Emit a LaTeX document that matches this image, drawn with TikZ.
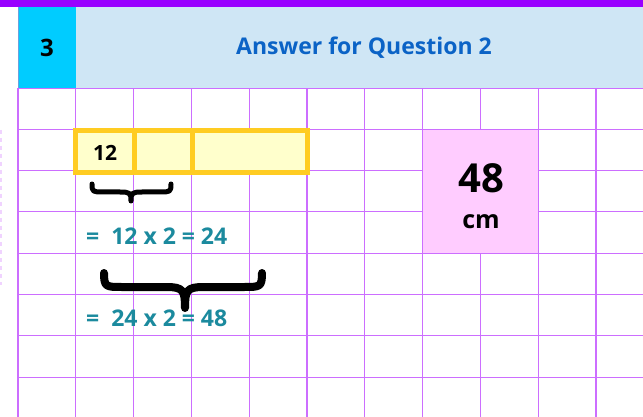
\documentclass[tikz,border=0pt]{standalone}
\usepackage{fontspec}
\setmainfont{Open Sans}
\definecolor{gridc}{HTML}{CC6EFF}
\definecolor{topbar}{HTML}{9900FF}
\definecolor{cyanc}{HTML}{00CCFF}
\definecolor{hdrbg}{HTML}{CFE6F5}
\definecolor{hdrtx}{HTML}{0B63C6}
\definecolor{goldc}{HTML}{FFCC22}
\definecolor{paley}{HTML}{FFFFCC}
\definecolor{pinkc}{HTML}{FFCCFF}
\definecolor{tealc}{HTML}{1B8A9E}
\tikzset{
  gridline/.style={draw=gridc, line width=1.1pt},
  eqtext/.style={anchor=west, inner sep=0pt, text=tealc, font=\fontsize{23}{26}\selectfont\bfseries},
  bracestyle/.style={draw=black, line cap=round, line join=round},
  celltext/.style={inner sep=0pt, font=\fontsize{22}{24}\selectfont\bfseries}
}
\begin{document}
\begin{tikzpicture}[x=1pt,y=-1pt]
\useasboundingbox (0,0) rectangle (643,417);
\fill[white] (0,0) rectangle (643,417);
% grid
\foreach \k in {0,...,10} {
  \draw[gridline] ({18+57.8*\k},88) -- ({18+57.8*\k},417);
}
\foreach \k in {0,...,7} {
  \draw[gridline] (18,{88+41.3*\k}) -- (643,{88+41.3*\k});
}
% faint left dashes
\draw[draw=gridc!30, line width=1.5pt, dash pattern=on 4pt off 4pt] (1,130) -- (1,285);
% header
\fill[topbar] (0,0) rectangle (643,7);
\fill[cyanc] (18,7) rectangle (76,88);
\fill[hdrbg] (76,7) rectangle (643,88);
\draw[draw=hdrtx!60, line width=0.8pt] (18,7) -- (18,88);
\node[celltext, font=\fontsize{24}{26}\selectfont\bfseries] (num) at (47,48) {3};
\node[inner sep=0pt, text=hdrtx, font=\fontsize{23}{26}\selectfont\bfseries] (title) at (364,48) {Answer for Question 2};
% yellow bar
\draw[draw=goldc, fill=paley, line width=5pt] (75.5,130.8) rectangle (307.5,172.5);
\draw[draw=goldc, line width=5pt] (134,130.8) -- (134,172.5);
\draw[draw=goldc, line width=5pt] (192,130.8) -- (192,172.5);
\node[celltext, font=\fontsize{21}{22}\selectfont\bfseries] (twelve) at (105,153) {12};
% small brace
\draw[bracestyle, line width=5pt]
  (92,184) .. controls (92,192) and (93,192) .. (103,192) -- (120,192)
  .. controls (130,192) and (131,193) .. (131,201)
  .. controls (131,193) and (132,192) .. (142,192) -- (160,192)
  .. controls (170,192) and (171,192) .. (171,184);
\node[eqtext] (eqone) at (86,236) {=\ \ 12 x 2 = 24};
% big brace
\draw[bracestyle, line width=8pt]
  (104,273) .. controls (104,287) and (106,287) .. (122,287) -- (166,287)
  .. controls (183,287) and (185,290) .. (185,308)
  .. controls (185,290) and (187,287) .. (204,287) -- (244,287)
  .. controls (260,287) and (262,287) .. (262,273);
\node[eqtext] (eqtwo) at (86,318) {=\ \ 24 x 2 = 48};
% pink answer box
\draw[draw=gridc, fill=pinkc, line width=1.1pt] (422.6,129.3) rectangle (538.2,253.2);
\node[inner sep=0pt, font=\fontsize{40}{44}\selectfont\bfseries] (ans) at (481,178) {48};
\node[inner sep=0pt, font=\fontsize{25}{28}\selectfont\bfseries] (unit) at (481,222) {cm};
\end{tikzpicture}
\end{document}
